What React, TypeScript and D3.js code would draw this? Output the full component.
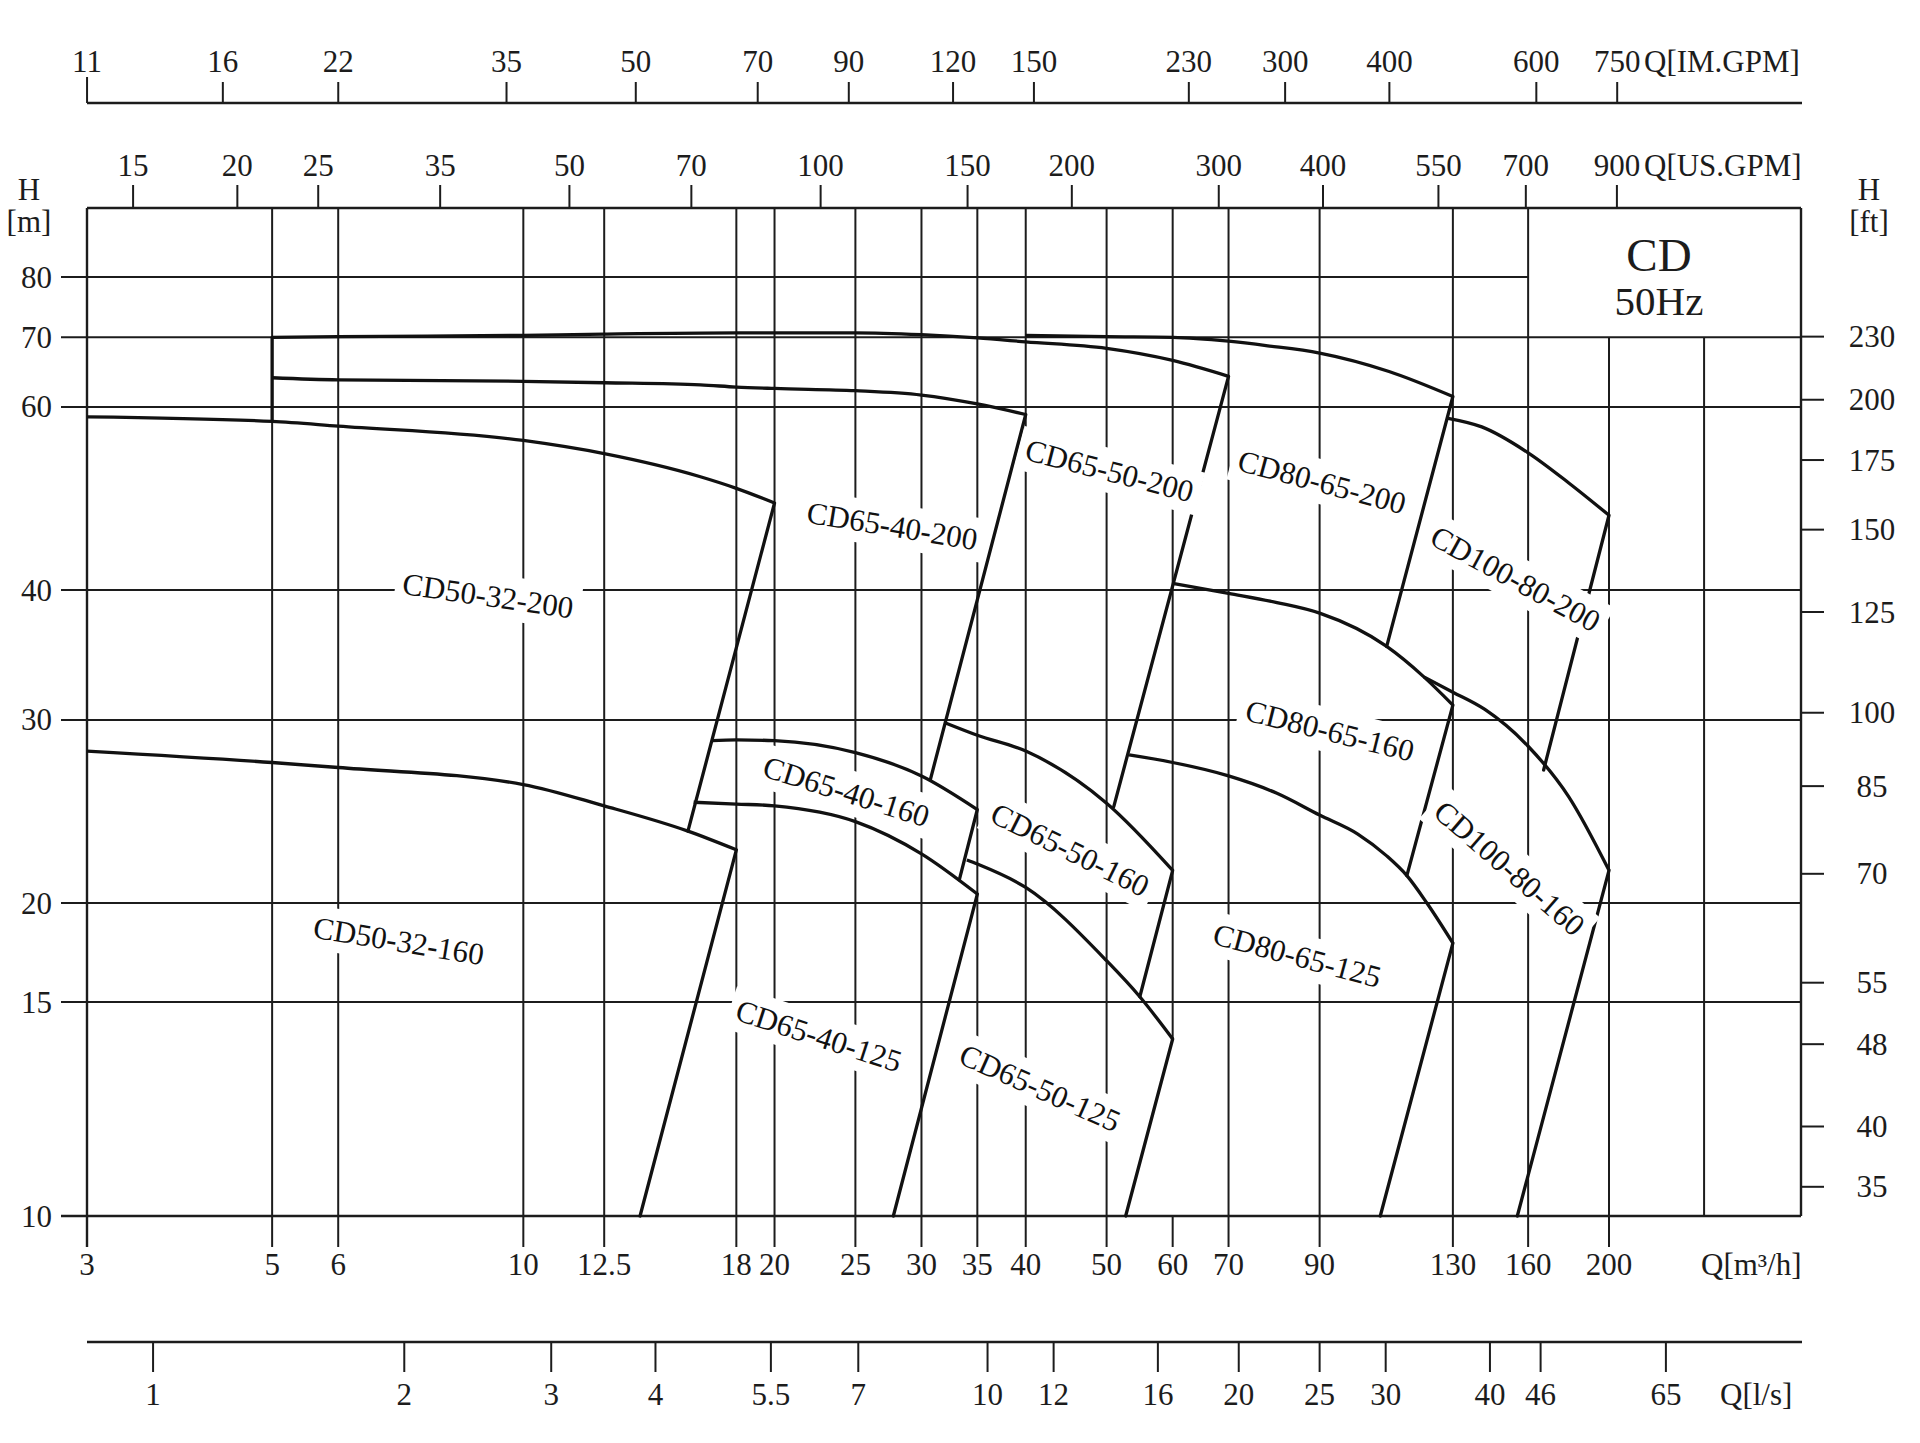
import React from "react";
import * as d3 from "d3";

// ---------- axis tick values ----------
const flowTicksM3h = [3, 5, 6, 10, 12.5, 18, 20, 25, 30, 35, 40, 50, 60, 70, 90, 130, 160, 200];
const extraGridM3h = [260];
// head gridlines as drawn in the source (the "15" line sits at ~16.06 m on the log scale)
const headGridM = [10, 16.06, 20, 30, 40, 60, 70, 80];
const headGridLabels = ["10", "15", "20", "30", "40", "60", "70", "80"];
const headTicksFt = [35, 40, 48, 55, 70, 85, 100, 125, 150, 175, 200, 230];
const flowTicksUsGpm = [15, 20, 25, 35, 50, 70, 100, 150, 200, 300, 400, 550, 700, 900];
const flowTicksImGpm = [11, 16, 22, 35, 50, 70, 90, 120, 150, 230, 300, 400, 600, 750];
const flowTicksLs = [1, 2, 3, 4, 5.5, 7, 10, 12, 16, 20, 25, 30, 40, 46, 65];

const USGPM_PER_M3H = 4.402868;
const IMGPM_PER_M3H = 3.666154;
const M3H_PER_LS = 3.6;
const M_PER_FT = 0.3048;

// ---------- pump curves [Q m3/h, H m] ----------
const cd50_32_200 = [[3, 58.7], [5, 58.1], [6, 57.5], [10, 55.7], [12.5, 54.1], [16.3, 51.4], [18, 50.1], [20, 48.5]];
const cd50_32_160 = [[3, 28.0], [5, 27.3], [6, 27.0], [10, 26.0], [12.5, 24.8], [15.75, 23.45], [18, 22.5]];
const cd65_40_200 = [[5, 64.0], [6, 63.7], [10, 63.5], [12.5, 63.3], [16.3, 63.0], [18, 62.7], [20, 62.5], [25, 62.2], [30, 61.6], [35, 60.4], [40, 59.0]];
const cd65_50_200 = [[5, 70.0], [6, 70.1], [10, 70.3], [12.5, 70.5], [18, 70.7], [25, 70.7], [30, 70.4], [35, 69.9], [40, 69.3], [50, 68.3], [60, 66.5], [70, 64.2]];
const cd80_65_200 = [[40, 70.3], [50, 70.1], [60, 70.0], [70, 69.4], [78, 68.7], [90, 67.6], [109, 64.9], [130, 61.4]];
const cd100_80_200 = [[128.3, 58.5], [140.8, 57.4], [160, 54.2], [179, 50.7], [200, 47.2]];
const cd65_40_160 = [[16.83, 28.66], [18, 28.7], [20, 28.65], [25, 27.9], [30, 26.5], [35, 24.6]];
const cd65_40_125 = [[16.0, 25.0], [18, 24.9], [20, 24.8], [25, 23.95], [30, 22.3], [35, 20.4]];
const cd65_50_160 = [[32.06, 29.8], [35, 29.0], [40, 28.0], [50, 24.95], [60, 21.5]];
const cd65_50_125 = [[34.0, 22.0], [35, 21.8], [40, 20.7], [50, 17.6], [54.8, 16.25], [60, 14.8]];
const cd80_65_160 = [[60, 40.6], [70, 39.7], [80, 38.9], [90, 38.0], [108.3, 35.3], [120, 33.0], [130, 31.0]];
const cd80_65_125 = [[53.2, 27.76], [60, 27.3], [70, 26.5], [80, 25.5], [90, 24.3], [100, 23.3], [108.3, 22.2], [114.5, 21.25], [121, 20.0], [130, 18.3]];
const cd100_80_160 = [[120, 33.0], [130, 31.9], [142, 30.7], [160, 28.3], [179, 25.3], [200, 21.5]];

const pumpCurves = [
  cd50_32_200, cd50_32_160, cd65_40_200, cd65_50_200, cd80_65_200, cd100_80_200,
  cd65_40_160, cd65_40_125, cd65_50_160, cd65_50_125, cd80_65_160, cd80_65_125, cd100_80_160,
];

// straight boundary edges between curve ends [[Q1,H1],[Q2,H2]]
const boundaryEdges = [
  [[5, 70.0], [5, 58.1]],
  [[20, 48.5], [15.75, 23.45]],
  [[18, 22.5], [13.8, 10]],
  [[40, 59.0], [30.75, 26.3]],
  [[35, 24.6], [33.3, 21.05]],
  [[35, 20.4], [27.76, 10]],
  [[70, 64.2], [51.0, 24.76]],
  [[60, 21.5], [54.8, 16.25]],
  [[60, 14.8], [52.7, 10]],
  [[130, 61.4], [108.3, 35.3]],
  [[200, 47.2], [167, 26.85]],
  [[130, 31.0], [114.5, 21.25]],
  [[130, 18.3], [106.4, 10]],
  [[200, 21.5], [155.3, 10]],
];

// curve labels: name, anchor Q, anchor H, rotation (deg)
const labelNames = ["CD50-32-200", "CD50-32-160", "CD65-40-200", "CD65-50-200", "CD80-65-200", "CD100-80-200", "CD65-40-160", "CD65-50-160", "CD80-65-160", "CD100-80-160", "CD65-40-125", "CD65-50-125", "CD80-65-125"];
const labelQ = [9.07, 7.09, 27.67, 50.4, 90.6, 154.5, 24.38, 45.2, 92.6, 152.0, 22.6, 41.6, 84.6];
const labelH = [39.5, 18.39, 46.1, 52.1, 50.8, 41.0, 25.6, 22.5, 29.3, 21.6, 14.9, 13.28, 17.8];
const labelAngle = [8.2, 9.3, 9.3, 14.5, 15, 28.5, 17.5, 26.5, 14, 41, 18, 24, 15];

const FONT = "'Liberation Serif', 'Times New Roman', serif";
const INK = "#1c1c1c";

function measure(text: string, size: number): number {
  try {
    const ctx = document.createElement("canvas").getContext("2d");
    if (ctx) {
      ctx.font = `${size}px "Liberation Serif"`;
      return ctx.measureText(text).width;
    }
  } catch (e) {}
  return text.length * size * 0.5;
}

export default function App() {
  const x = d3.scaleLog().domain([3, 200]).range([87, 1609]);
  const y = d3.scaleLog().domain([10, 80]).range([1216, 277]);
  const L = x(3);
  const R = 1801;
  const T = 208;
  const B = y(10);
  const leftTickX = 61;
  const bottomTickY = 1247;
  const fs = 31;

  const line = d3
    .line<number[]>()
    .x((d) => x(d[0]))
    .y((d) => y(d[1]))
    .curve(d3.curveMonotoneX);

  const gridW = 2;
  const curveW = 3.3;

  const vLines: any[] = [];
  flowTicksM3h.forEach((q, i) => {
    if (q === 3) return;
    const top = q === 200 ? y(70) : T;
    const bottom = q === 60 ? y(14.8) : B;
    vLines.push(<line key={"v" + i} x1={x(q)} x2={x(q)} y1={top} y2={bottom} stroke={INK} strokeWidth={gridW} />);
  });
  extraGridM3h.forEach((q, i) =>
    vLines.push(<line key={"ve" + i} x1={x(q)} x2={x(q)} y1={y(70)} y2={B} stroke={INK} strokeWidth={gridW} />)
  );

  const hLines = headGridM.map((h, i) => (
    <line key={"h" + i} x1={leftTickX} x2={h === 80 ? x(160) : R} y1={y(h)} y2={y(h)} stroke={INK} strokeWidth={gridW} />
  ));

  const imY = 103;
  const imLabelY = 72;
  const usLabelY = 176;
  const qLabelY = 1275;
  const lsY = 1342;
  const lsLabelY = 1405;

  return (
    <svg
      width={1920}
      height={1443}
      viewBox="0 0 1920 1443"
      style={{ position: "absolute", left: 0, top: 0, background: "#fff" }}
      fontFamily={FONT}
    >
      <rect x={0} y={0} width={1920} height={1443} fill="#fff" />

      {/* IM GPM axis */}
      <line x1={L} x2={R + 1} y1={imY} y2={imY} stroke={INK} strokeWidth={2.4} />
      {flowTicksImGpm.map((v, i) => {
        const px = x(v / IMGPM_PER_M3H);
        return (
          <g key={"im" + i}>
            <line x1={px} x2={px} y1={imY} y2={i === 0 ? imY - 26 : imY - 21} stroke={INK} strokeWidth={gridW} />
            <text x={px} y={imLabelY} textAnchor="middle" fontSize={fs} fill={INK}>{v}</text>
          </g>
        );
      })}
      <text x={1644} y={imLabelY} fontSize={fs} fill={INK}>Q[IM.GPM]</text>

      {/* US GPM axis (top frame) */}
      {flowTicksUsGpm.map((v, i) => {
        const px = x(v / USGPM_PER_M3H);
        return (
          <g key={"us" + i}>
            <line x1={px} x2={px} y1={T} y2={T - 23} stroke={INK} strokeWidth={gridW} />
            <text x={px} y={usLabelY} textAnchor="middle" fontSize={fs} fill={INK}>{v}</text>
          </g>
        );
      })}
      <text x={1644} y={usLabelY} fontSize={fs} fill={INK}>Q[US.GPM]</text>

      {/* grid */}
      {hLines}
      {vLines}

      {/* frame */}
      <line x1={L} x2={R} y1={T} y2={T} stroke={INK} strokeWidth={2.4} />
      <line x1={L} x2={L} y1={T} y2={bottomTickY} stroke={INK} strokeWidth={2.4} />
      <line x1={R} x2={R} y1={T} y2={B} stroke={INK} strokeWidth={2.4} />
      <line x1={leftTickX} x2={R} y1={B} y2={B} stroke={INK} strokeWidth={2.4} />

      {/* bottom m3/h ticks & labels */}
      {flowTicksM3h.map((q, i) => (
        <g key={"qb" + i}>
          <line x1={x(q)} x2={x(q)} y1={B} y2={bottomTickY} stroke={INK} strokeWidth={gridW} />
          <text x={x(q)} y={qLabelY} textAnchor="middle" fontSize={fs} fill={INK}>{q}</text>
        </g>
      ))}
      <text x={1701} y={qLabelY} fontSize={fs} fill={INK}>Q[m³/h]</text>

      {/* left head axis labels */}
      {headGridM.map((h, i) => (
        <text key={"hl" + i} x={52} y={y(h) + fs * 0.34} textAnchor="end" fontSize={fs} fill={INK}>{headGridLabels[i]}</text>
      ))}
      <text x={29} y={200} textAnchor="middle" fontSize={fs} fill={INK}>H</text>
      <text x={29} y={232} textAnchor="middle" fontSize={fs} fill={INK}>[m]</text>

      {/* right ft axis */}
      {headTicksFt.map((f, i) => {
        const py = y(f * M_PER_FT);
        return (
          <g key={"ft" + i}>
            <line x1={R} x2={R + 23} y1={py} y2={py} stroke={INK} strokeWidth={gridW} />
            <text x={1872} y={py + fs * 0.34} textAnchor="middle" fontSize={fs} fill={INK}>{f}</text>
          </g>
        );
      })}
      <text x={1869} y={200} textAnchor="middle" fontSize={fs} fill={INK}>H</text>
      <text x={1869} y={232} textAnchor="middle" fontSize={fs} fill={INK}>[ft]</text>

      {/* l/s axis */}
      <line x1={L} x2={R + 1} y1={lsY} y2={lsY} stroke={INK} strokeWidth={2.4} />
      {flowTicksLs.map((v, i) => {
        const px = x(v * M3H_PER_LS);
        return (
          <g key={"ls" + i}>
            <line x1={px} x2={px} y1={lsY} y2={lsY + 30} stroke={INK} strokeWidth={gridW} />
            <text x={px} y={lsLabelY} textAnchor="middle" fontSize={fs} fill={INK}>{v}</text>
          </g>
        );
      })}
      <text x={1720} y={lsLabelY} fontSize={fs} fill={INK}>Q[l/s]</text>

      {/* title box text */}
      <text x={1659} y={271} textAnchor="middle" fontSize={47} fill={INK}>CD</text>
      <text x={1659} y={315} textAnchor="middle" fontSize={41} fill={INK}>50Hz</text>

      {/* pump curves */}
      {pumpCurves.map((c, i) => (
        <path key={"c" + i} d={line(c as number[][]) || ""} fill="none" stroke="#111" strokeWidth={curveW} strokeLinejoin="round" />
      ))}
      {boundaryEdges.map((e, i) => (
        <line key={"e" + i} x1={x(e[0][0])} y1={y(e[0][1])} x2={x(e[1][0])} y2={y(e[1][1])} stroke="#111" strokeWidth={curveW} strokeLinecap="round" />
      ))}

      {/* curve labels with white masks */}
      {labelNames.map((name, i) => {
        const cx = x(labelQ[i]);
        const cy = y(labelH[i]);
        const w = measure(name, fs) + 14;
        const h = 44;
        return (
          <g key={"lb" + i} transform={`translate(${cx},${cy}) rotate(${labelAngle[i]})`}>
            <rect x={-w / 2} y={-h / 2} width={w} height={h} fill="#fff" />
            <text x={0} y={fs * 0.34} textAnchor="middle" fontSize={fs} fill="#111">{name}</text>
          </g>
        );
      })}
    </svg>
  );
}
